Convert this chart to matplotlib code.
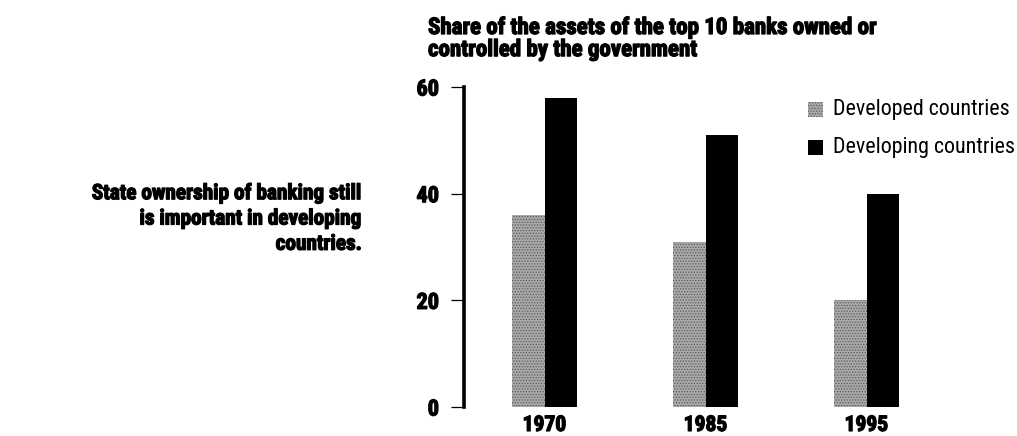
import matplotlib
matplotlib.use("Agg")
import matplotlib.pyplot as plt
import matplotlib.patheffects as pe
import numpy as np

years = ["1970", "1985", "1995"]
developed = [36, 31, 20]
developing = [58, 51, 40]
series_names = ["Developed countries", "Developing countries"]
y_ticks = [0, 20, 40, 60]

FAMILY = ["Roboto Condensed", "Archivo Narrow", "DejaVu Sans"]
HEAVY = "bold"
# a thin outline in the text colour makes the bold condensed face look heavier
THICK = [pe.withStroke(linewidth=0.9, foreground="black")]
plt.rcParams["font.family"] = FAMILY
plt.rcParams["hatch.color"] = "#5a5a5a"
plt.rcParams["hatch.linewidth"] = 0.6

W, H = 1017, 436
fig = plt.figure(figsize=(W / 100, H / 100), dpi=100)
ax = fig.add_axes([464 / W, (H - 407) / H, (1000 - 464) / W, 320 / H])

x = np.arange(len(years))
bw = 0.2
ax.bar(x - bw / 2, developed, width=bw, color="#a9a9a9", hatch="......",
       linewidth=0)
ax.bar(x + bw / 2, developing, width=bw, color="black", linewidth=0)

ax.set_xlim(-0.5, (1000 - 544.5) / 161)
ax.set_ylim(0, 60)
for s in ["top", "right", "bottom"]:
    ax.spines[s].set_visible(False)
ax.spines["left"].set_linewidth(2.6)

ax.set_yticks(y_ticks)
ax.set_yticklabels([str(v) for v in y_ticks], fontweight=HEAVY, fontsize=16,
                   path_effects=THICK)
ax.tick_params(axis="y", length=9.5, width=0.9, pad=8.5)

ax.set_xticks(x)
ax.set_xticklabels(years, fontweight=HEAVY, fontsize=15.5, path_effects=THICK)
ax.tick_params(axis="x", length=0, pad=5)

fig.text(428 / W, 1 - 16 / H,
         "Share of the assets of the top 10 banks owned or\ncontrolled by the government",
         ha="left", va="top", fontsize=16.5, fontweight=HEAVY, linespacing=0.95,
         path_effects=THICK)

fig.text(362 / W, 1 - 219 / H,
         "State ownership of banking still\nis important in developing\ncountries.",
         ha="right", va="center", fontsize=15.3, fontweight=HEAVY, linespacing=1.42,
         path_effects=THICK)

# legend drawn as figure-level squares and labels
fig.patches.append(plt.Rectangle((808 / W, 1 - 117 / H), 15 / W, 15 / H,
                                 transform=fig.transFigure, facecolor="#a9a9a9",
                                 hatch="......", linewidth=0))
fig.patches.append(plt.Rectangle((808 / W, 1 - 155 / H), 15 / W, 15 / H,
                                 transform=fig.transFigure, facecolor="black",
                                 linewidth=0))
fig.text(833 / W, 1 - 110 / H, series_names[0], ha="left", va="center", fontsize=15.8)
fig.text(833 / W, 1 - 147 / H, series_names[1], ha="left", va="center", fontsize=15.8)

fig.savefig("out.png", dpi=100)
